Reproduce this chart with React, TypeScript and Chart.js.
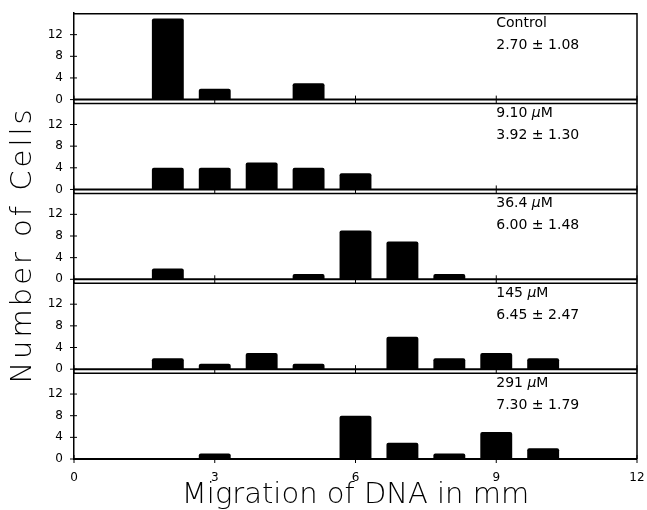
import React, { useEffect, useRef } from 'react';
import { Chart, registerables } from 'chart.js';

Chart.register(...registerables);

// ---- data ----
const binCenters = [2, 3, 4, 5, 6, 7, 8, 9, 10];
const controlCounts = [15, 2, 0, 3, 0, 0, 0, 0, 0];
const dose9_10Counts = [4, 4, 5, 4, 3, 0, 0, 0, 0];
const dose36_4Counts = [2, 0, 0, 1, 9, 7, 1, 0, 0];
const dose145Counts = [2, 1, 3, 1, 0, 6, 2, 3, 2];
const dose291Counts = [0, 1, 0, 0, 8, 3, 1, 5, 2];
const panelCounts = [controlCounts, dose9_10Counts, dose36_4Counts, dose145Counts, dose291Counts];
const panelNames = ['Control', '9.10 μM', '36.4 μM', '145 μM', '291 μM'];
const panelStats = ['2.70 ± 1.08', '3.92 ± 1.30', '6.00 ± 1.48', '6.45 ± 2.47', '7.30 ± 1.79'];
const xTicks = [0, 3, 6, 9, 12];
const yTicks = [0, 4, 8, 12];
const xMin = 0;
const xMax = 12;
const yMax = 16;
const xTitle = 'Migration of DNA in mm';
const yTitle = 'Number of Cells';

const FONT = "'DejaVu Sans', sans-serif";

function line(ctx: CanvasRenderingContext2D, x1: number, y1: number, x2: number, y2: number) {
  ctx.beginPath();
  ctx.moveTo(x1, y1);
  ctx.lineTo(x2, y2);
  ctx.stroke();
}

function drawMixed(ctx: CanvasRenderingContext2D, text: string, x: number, y: number) {
  // draw the Greek mu in italic, like the original figure
  const parts = text.split('μ');
  let cx = x;
  parts.forEach((p, idx) => {
    ctx.font = `14px ${FONT}`;
    ctx.fillText(p, cx, y);
    cx += ctx.measureText(p).width;
    if (idx < parts.length - 1) {
      ctx.font = `italic 14px ${FONT}`;
      ctx.fillText('μ', cx, y);
      cx += ctx.measureText('μ').width;
    }
  });
}

const panelFrame = {
  id: 'panelFrame',
  afterDraw(chart: any) {
    const { ctx, chartArea, scales } = chart;
    const xs = scales.x;
    ctx.save();
    ctx.strokeStyle = '#000';
    ctx.fillStyle = '#000';
    panelCounts.forEach((_, i) => {
      const ys = scales['y' + i];
      ctx.lineWidth = 1.5;
      line(ctx, chartArea.left, ys.top + 0.75, chartArea.right, ys.top + 0.75);
      line(ctx, chartArea.right, ys.top, chartArea.right, ys.bottom);
      const y0 = ys.getPixelForValue(0);
      ctx.lineWidth = 2;
      line(ctx, chartArea.left, y0, chartArea.right, y0);
      ctx.lineWidth = 1;
      xTicks.forEach((v) => {
        const px = xs.getPixelForValue(v);
        line(ctx, px, y0 - 4, px, y0 + 4);
      });
      yTicks.forEach((v) => {
        const py = ys.getPixelForValue(v);
        line(ctx, chartArea.left - 4, py, chartArea.left + 3, py);
      });
      ctx.textAlign = 'left';
      ctx.textBaseline = 'middle';
      const tx = xs.getPixelForValue(9);
      drawMixed(ctx, panelNames[i], tx, ys.getPixelForValue(14));
      ctx.font = `14px ${FONT}`;
      ctx.fillText(panelStats[i], tx, ys.getPixelForValue(10));
    });
    // shared y title
    ctx.save();
    ctx.translate(23, (chartArea.top + chartArea.bottom) / 2 + 9);
    ctx.rotate(-Math.PI / 2);
    ctx.textAlign = 'center';
    ctx.textBaseline = 'middle';
    ctx.font = `200 29px ${FONT}`;
    (ctx as any).letterSpacing = '3px';
    ctx.fillText(yTitle, 0, 0);
    ctx.restore();
    ctx.restore();
  },
};

export default function App() {
  const ref = useRef<HTMLCanvasElement | null>(null);
  useEffect(() => {
    if (!ref.current) return;
    const n = panelCounts.length;
    const scales: any = {
      x: {
        type: 'linear',
        position: 'bottom',
        min: xMin,
        max: xMax,
        offset: false,
        afterBuildTicks: (s: any) => {
          s.ticks = xTicks.map((v) => ({ value: v }));
        },
        afterFit: (s: any) => {
          s.height = 51;
          s.paddingLeft = 0;
          s.paddingRight = 0;
          s.paddingTop = 0;
          s.paddingBottom = 0;
        },
        grid: { display: false, drawTicks: false },
        border: { display: false },
        ticks: { color: '#000', font: { family: FONT, size: 12 }, padding: 12, maxRotation: 0, autoSkip: false },
        title: {
          display: true,
          text: xTitle,
          color: '#000',
          font: { family: FONT, size: 29, weight: 200, lineHeight: 1 },
          padding: { top: 0, bottom: 0 },
        },
      },
    };
    for (let i = n - 1; i >= 0; i--) {
      const min = i === n - 1 ? 0 : -0.6;
      scales['y' + i] = {
        type: 'linear',
        position: 'left',
        stack: 'panels',
        stackWeight: yMax - min,
        min,
        max: yMax,
        afterBuildTicks: (s: any) => {
          s.ticks = yTicks.map((v) => ({ value: v }));
        },
        afterFit: (s: any) => {
          s.width = 74;
          s.paddingTop = 0;
          s.paddingBottom = 0;
          s.paddingLeft = 0;
          s.paddingRight = 0;
        },
        grid: { display: false, drawTicks: false },
        border: { display: true, color: '#000', width: 1.5 },
        ticks: { color: '#000', font: { family: FONT, size: 12 }, padding: 11, autoSkip: false },
      };
    }
    const datasets = panelCounts.map((counts, i) => ({
      label: panelNames[i],
      data: binCenters
        .map((x, j) => ({ x, y: counts[j] }))
        .filter((d) => d.y > 0),
      yAxisID: 'y' + i,
      backgroundColor: '#000',
      borderWidth: 0,
      borderRadius: 2,
      grouped: false,
      categoryPercentage: 1,
      barPercentage: 0.68,
    }));
    const chart = new Chart(ref.current, {
      type: 'bar',
      data: { datasets },
      options: {
        animation: false,
        responsive: false,
        devicePixelRatio: 1,
        layout: { padding: { top: 13, right: 10, left: 0, bottom: 0 } },
        plugins: { legend: { display: false }, tooltip: { enabled: false } },
        scales,
      } as any,
      plugins: [panelFrame],
    });
    return () => chart.destroy();
  }, []);
  return (
    <div style={{ position: 'absolute', left: 0, top: 0, width: 647, height: 510, background: '#fff' }}>
      <canvas ref={ref} width={647} height={510} style={{ display: 'block', width: 647, height: 510 }} />
    </div>
  );
}
